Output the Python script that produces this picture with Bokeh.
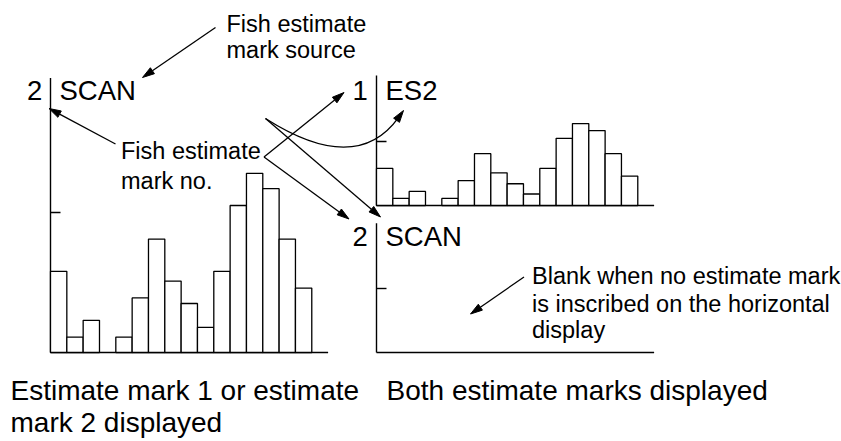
import math
from bokeh.plotting import figure
from bokeh.models import Range1d
from bokeh.core.properties import value
from bokeh.embed import file_html
from bokeh.resources import INLINE

# ---------------- data ----------------
bins = list(range(16))
scan_counts = [5.8, 1.1, 2.3, 0, 1.1, 3.9, 8.1, 5.1, 3.5, 1.8, 5.8, 10.5, 12.8, 11.7, 8.1, 4.6]
es2_counts = [5.8, 1.1, 2.2, 0, 1.1, 3.9, 8.1, 5.1, 3.4, 1.8, 5.8, 10.5, 12.8, 11.7, 8.1, 4.6]
tick_value = 10
axis_bins = 17

# ---------------- layout ----------------
W, H = 841, 441
SX0, SX1 = 0, W          # screen x covered by the frame
SY0, SY1 = 0, H          # screen y covered by the frame
BIN_W = 16.33
TICK_LEN = 10 / BIN_W
# name: (screen x of origin, screen y of baseline, px per unit, axis top in units)
PANELS = {
    "left": (50, 352, 14.0, 19.6),
    "es2": (376, 205, 6.4, 20.3),
    "scan2": (376, 352, 6.4, 20.2),
}

FONT = value("Liberation Sans")
LABEL_SIZE = 27.5
NOTE_SIZE = 23.5
CAP_SIZE = 28
BASE_SHIFT = 0.33   # empirical correction of the rendered baseline (in em)
HEAD_LEN, HEAD_HALF = 12, 3.6

p = figure(width=W, height=H, output_backend="svg", toolbar_location=None,
           x_range=Range1d(SX0, SX1), y_range=Range1d(SY1, SY0),
           x_axis_type=None, y_axis_type=None, min_border=0,
           outline_line_color=None, background_fill_color="white",
           border_fill_color="white")
p.xgrid.visible = False
p.ygrid.visible = False

for name, (x0, base, k, ytop) in PANELS.items():
    p.extra_x_ranges[name] = Range1d((SX0 - x0) / BIN_W, (SX1 - x0) / BIN_W)
    p.extra_y_ranges[name] = Range1d((base - SY1) / k, (base - SY0) / k)
    # axis lines and tick
    p.segment(x0=[0, 0, 0], y0=[0, 0, tick_value],
              x1=[0, axis_bins, TICK_LEN], y1=[ytop, 0, tick_value],
              line_color="black", line_width=1.4,
              x_range_name=name, y_range_name=name)


def draw_bars(name, counts):
    l = [b for b, c in zip(bins, counts) if c > 0]
    t = [c for c in counts if c > 0]
    p.quad(left=l, right=[b + 1 for b in l], bottom=[0] * len(l), top=t,
           fill_color="white", line_color="black", line_width=1.3,
           x_range_name=name, y_range_name=name)


draw_bars("left", scan_counts)
draw_bars("es2", es2_counts)


def text(x, y, s, size):
    p.text(x=[x], y=[y - BASE_SHIFT * size], text=[s], text_font=FONT,
           text_font_size=value(f"{size}px"),
           text_baseline="alphabetic", text_align="left", text_color="black")


# panel labels
text(26.5, 99, "2", LABEL_SIZE)
text(59, 99, "SCAN", LABEL_SIZE)
text(352, 99, "1", LABEL_SIZE)
text(385, 99, "ES2", LABEL_SIZE)
text(352, 245, "2", LABEL_SIZE)
text(385, 245, "SCAN", LABEL_SIZE)

# notes
text(226, 31.5, "Fish estimate", NOTE_SIZE)
text(226, 57.5, "mark source", NOTE_SIZE)
text(120.5, 158.5, "Fish estimate", NOTE_SIZE)
text(120.5, 188, "mark no.", NOTE_SIZE)
text(531.5, 283, "Blank when no estimate mark", NOTE_SIZE)
text(531.5, 311, "is inscribed on the horizontal", NOTE_SIZE)
text(531.5, 337.5, "display", NOTE_SIZE)

# captions
text(10, 399, "Estimate mark 1 or estimate", CAP_SIZE)
text(10, 431, "mark 2 displayed", CAP_SIZE)
text(386, 399, "Both estimate marks displayed", CAP_SIZE)

heads_x, heads_y = [], []


def head(xs, ys, xe, ye):
    dx, dy = xe - xs, ye - ys
    n = math.hypot(dx, dy)
    ux, uy = dx / n, dy / n
    bx, by = xe - HEAD_LEN * ux, ye - HEAD_LEN * uy
    heads_x.append([xe, bx - HEAD_HALF * uy, bx + HEAD_HALF * uy])
    heads_y.append([ye, by + HEAD_HALF * ux, by - HEAD_HALF * ux])
    return bx, by


def arrow(xs, ys, xe, ye):
    bx, by = head(xs, ys, xe, ye)
    p.segment(x0=[xs], y0=[ys], x1=[bx], y1=[by], line_color="black", line_width=1.3)


arrow(215, 27, 142, 77)        # mark source -> SCAN
arrow(115, 143.5, 48.5, 108)   # mark no. -> left "2"
arrow(263.5, 156.5, 343.5, 92)  # mark no. -> "1"
arrow(263.5, 156.5, 348.5, 218.5)  # mark no. -> right "2"
arrow(265, 118, 380, 216.5)    # source -> right SCAN
arrow(523.5, 276.5, 470, 313.5)  # blank note

# curved arrow: source -> ES2
P0 = (265, 118)
P1 = (356, 176)
P2 = (403, 110)
p.quadratic(x0=[P0[0]], y0=[P0[1]], x1=[P2[0] - 0.1 * (P2[0] - P1[0])],
            y1=[P2[1] - 0.1 * (P2[1] - P1[1])], cx=[P1[0]], cy=[P1[1]],
            line_color="black", line_width=1.3)
head(P1[0], P1[1], P2[0], P2[1])

p.patches(xs=heads_x, ys=heads_y, fill_color="black", line_color="black", line_width=1)

open("out.html", "w").write(file_html(p, INLINE))
